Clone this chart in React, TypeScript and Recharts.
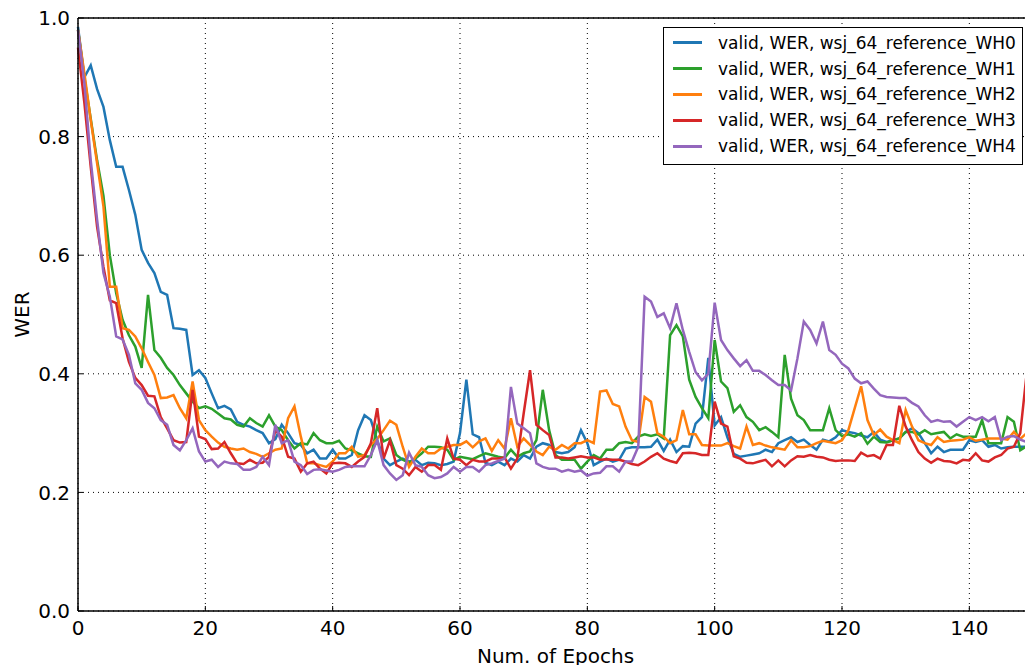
import { LineChart, Line, XAxis, YAxis, CartesianGrid, Legend, ReferenceLine } from "recharts";

// epoch 0..149
const wh0 = [
  0.985, 0.9, 0.92, 0.88, 0.85, 0.794, 0.749, 0.749, 0.71, 0.668,
  0.609, 0.587, 0.57, 0.538, 0.533, 0.477, 0.476, 0.474, 0.398, 0.406,
  0.393, 0.367, 0.342, 0.346, 0.34, 0.319, 0.314, 0.311, 0.305, 0.3,
  0.283, 0.29, 0.314, 0.3, 0.283, 0.28, 0.266, 0.272, 0.257, 0.257,
  0.272, 0.257, 0.257, 0.263, 0.305, 0.33, 0.322, 0.288, 0.257, 0.246,
  0.252, 0.257, 0.252, 0.255, 0.246, 0.25, 0.249, 0.246, 0.248, 0.252,
  0.3, 0.39, 0.298, 0.293, 0.25, 0.246, 0.252, 0.246, 0.257, 0.252,
  0.263, 0.257, 0.277, 0.283, 0.28, 0.268, 0.266, 0.268, 0.276, 0.305,
  0.283, 0.246, 0.252, 0.257, 0.252, 0.255, 0.274, 0.276, 0.276, 0.276,
  0.277, 0.289, 0.27, 0.289, 0.268, 0.278, 0.277, 0.316, 0.327, 0.427,
  0.313, 0.327, 0.293, 0.265, 0.26, 0.262, 0.264, 0.266, 0.272, 0.268,
  0.283, 0.288, 0.293, 0.285, 0.289, 0.28, 0.272, 0.289, 0.286, 0.293,
  0.305, 0.302, 0.3, 0.296, 0.293, 0.302, 0.289, 0.285, 0.288, 0.291,
  0.302, 0.308, 0.3, 0.283, 0.266, 0.277, 0.268, 0.272, 0.272, 0.272,
  0.288, 0.285, 0.288, 0.277, 0.28, 0.274, 0.276, 0.277, 0.277, 0.277,
];

const wh1 = [
  0.98, 0.9, 0.83, 0.76, 0.7, 0.6, 0.536, 0.491, 0.465, 0.446,
  0.41, 0.533, 0.44, 0.427, 0.41, 0.398, 0.381, 0.367, 0.353, 0.342,
  0.345, 0.341, 0.333, 0.325, 0.323, 0.314, 0.311, 0.325, 0.317, 0.311,
  0.33, 0.311, 0.305, 0.288, 0.274, 0.283, 0.281, 0.3, 0.288, 0.283,
  0.283, 0.287, 0.274, 0.271, 0.266, 0.261, 0.26, 0.311, 0.286, 0.291,
  0.263, 0.255, 0.25, 0.257, 0.266, 0.277, 0.277, 0.276, 0.272, 0.255,
  0.26, 0.258, 0.256, 0.261, 0.266, 0.263, 0.26, 0.258, 0.272, 0.26,
  0.266, 0.269, 0.288, 0.373, 0.305, 0.263, 0.255, 0.255, 0.255, 0.24,
  0.252, 0.263, 0.257, 0.272, 0.272, 0.283, 0.285, 0.283, 0.294, 0.298,
  0.295, 0.298, 0.291, 0.465, 0.482, 0.463, 0.39, 0.361, 0.342, 0.325,
  0.457, 0.387, 0.376, 0.336, 0.347, 0.327, 0.319, 0.305, 0.31, 0.302,
  0.293, 0.432, 0.358, 0.33, 0.322, 0.305, 0.305, 0.305, 0.342, 0.305,
  0.295, 0.298, 0.294, 0.3, 0.282, 0.294, 0.285, 0.284, 0.288, 0.291,
  0.302, 0.302, 0.298, 0.305, 0.298, 0.3, 0.302, 0.291, 0.298, 0.294,
  0.294, 0.294, 0.322, 0.283, 0.283, 0.283, 0.327, 0.319, 0.271, 0.278,
];

const wh2 = [
  0.98, 0.907, 0.828, 0.755, 0.682, 0.547, 0.547, 0.477, 0.474, 0.463,
  0.443, 0.42, 0.398, 0.359, 0.36, 0.364, 0.342, 0.325, 0.387, 0.322,
  0.305, 0.294, 0.284, 0.277, 0.274, 0.272, 0.274, 0.268, 0.265, 0.26,
  0.266, 0.272, 0.274, 0.325, 0.345, 0.294, 0.249, 0.249, 0.246, 0.243,
  0.252, 0.266, 0.266, 0.277, 0.26, 0.263, 0.28, 0.29, 0.305, 0.321,
  0.314, 0.277, 0.243, 0.26, 0.274, 0.266, 0.266, 0.274, 0.277, 0.28,
  0.28, 0.286, 0.276, 0.286, 0.291, 0.27, 0.288, 0.274, 0.325, 0.277,
  0.291, 0.28, 0.269, 0.263, 0.277, 0.272, 0.28, 0.274, 0.283, 0.283,
  0.288, 0.283, 0.37, 0.372, 0.349, 0.345, 0.311, 0.288, 0.285, 0.361,
  0.353, 0.3, 0.294, 0.283, 0.288, 0.339, 0.298, 0.298, 0.28, 0.279,
  0.279, 0.279, 0.283, 0.278, 0.274, 0.311, 0.28, 0.283, 0.279, 0.276,
  0.274, 0.272, 0.288, 0.276, 0.276, 0.278, 0.283, 0.287, 0.285, 0.283,
  0.288, 0.305, 0.342, 0.379, 0.322, 0.297, 0.306, 0.294, 0.288, 0.283,
  0.339, 0.311, 0.288, 0.283, 0.28, 0.293, 0.285, 0.287, 0.288, 0.289,
  0.293, 0.287, 0.289, 0.291, 0.291, 0.291, 0.289, 0.302, 0.29, 0.3,
];

const wh3 = [
  0.95, 0.857, 0.749, 0.648, 0.58, 0.524, 0.519, 0.46, 0.42, 0.393,
  0.381, 0.363, 0.362, 0.327, 0.308, 0.288, 0.284, 0.285, 0.373, 0.294,
  0.29, 0.273, 0.274, 0.285, 0.266, 0.249, 0.248, 0.255, 0.249, 0.25,
  0.26, 0.305, 0.294, 0.26, 0.257, 0.235, 0.249, 0.252, 0.24, 0.232,
  0.249, 0.25, 0.249, 0.243, 0.252, 0.26, 0.283, 0.342, 0.257, 0.288,
  0.246, 0.24, 0.229, 0.243, 0.235, 0.246, 0.246, 0.238, 0.291, 0.257,
  0.255, 0.246, 0.255, 0.252, 0.252, 0.257, 0.257, 0.259, 0.24, 0.257,
  0.333, 0.406, 0.314, 0.305, 0.297, 0.259, 0.259, 0.257, 0.259, 0.261,
  0.259, 0.259, 0.255, 0.256, 0.255, 0.255, 0.252, 0.248, 0.246, 0.252,
  0.26, 0.266, 0.257, 0.253, 0.25, 0.266, 0.267, 0.266, 0.263, 0.263,
  0.353, 0.316, 0.311, 0.261, 0.257, 0.25, 0.249, 0.252, 0.255, 0.244,
  0.254, 0.244, 0.254, 0.261, 0.26, 0.263, 0.26, 0.259, 0.255, 0.253,
  0.254, 0.254, 0.253, 0.267, 0.261, 0.263, 0.257, 0.28, 0.28, 0.346,
  0.311, 0.288, 0.268, 0.257, 0.25, 0.257, 0.253, 0.252, 0.249, 0.255,
  0.254, 0.266, 0.254, 0.252, 0.259, 0.263, 0.274, 0.277, 0.3, 0.4,
];

const wh4 = [
  0.98, 0.89, 0.76, 0.66, 0.57, 0.53, 0.463, 0.458, 0.432, 0.384,
  0.373, 0.351, 0.342, 0.322, 0.314, 0.28, 0.271, 0.288, 0.308, 0.269,
  0.252, 0.255, 0.243, 0.252, 0.249, 0.248, 0.238, 0.238, 0.243, 0.26,
  0.246, 0.314, 0.283, 0.288, 0.252, 0.246, 0.231, 0.238, 0.239, 0.237,
  0.235, 0.238, 0.243, 0.244, 0.244, 0.244, 0.263, 0.288, 0.246, 0.232,
  0.221, 0.229, 0.267, 0.246, 0.243, 0.229, 0.224, 0.226, 0.232, 0.243,
  0.235, 0.243, 0.243, 0.235, 0.246, 0.249, 0.253, 0.257, 0.378, 0.316,
  0.308, 0.3, 0.249, 0.243, 0.24, 0.24, 0.235, 0.238, 0.235, 0.237,
  0.228, 0.232, 0.233, 0.244, 0.244, 0.235, 0.252, 0.252, 0.277, 0.53,
  0.522, 0.496, 0.502, 0.477, 0.519, 0.474, 0.437, 0.403, 0.389, 0.4,
  0.52, 0.457, 0.44, 0.426, 0.413, 0.423, 0.405, 0.405, 0.398, 0.389,
  0.381, 0.381, 0.372, 0.426, 0.488, 0.474, 0.451, 0.488, 0.44, 0.432,
  0.417, 0.409, 0.392, 0.384, 0.387, 0.375, 0.364, 0.361, 0.36, 0.359,
  0.359, 0.351, 0.345, 0.33, 0.319, 0.322, 0.319, 0.32, 0.311, 0.319,
  0.327, 0.322, 0.327, 0.32, 0.327, 0.288, 0.294, 0.295, 0.289, 0.285,
];

const seriesKeys = ["wh0", "wh1", "wh2", "wh3", "wh4"];
const seriesNames = [
  "valid, WER, wsj_64_reference_WH0",
  "valid, WER, wsj_64_reference_WH1",
  "valid, WER, wsj_64_reference_WH2",
  "valid, WER, wsj_64_reference_WH3",
  "valid, WER, wsj_64_reference_WH4",
];
const colors = ["#1f77b4", "#2ca02c", "#ff7f0e", "#d62728", "#9467bd"];
const xTicks = [0, 20, 40, 60, 80, 100, 120, 140];
const yTicks = [0, 0.2, 0.4, 0.6, 0.8, 1.0];

const data = wh0.map((v, i) => ({
  epoch: i,
  wh0: v,
  wh1: wh1[i],
  wh2: wh2[i],
  wh3: wh3[i],
  wh4: wh4[i],
}));

const font = "'DejaVu Sans', sans-serif";
const tickStyle = { fontSize: 20, fontFamily: font, fill: "#000" };

function LegendBox({ payload }: any) {
  return (
    <div
      style={{
        border: "1.5px solid #000",
        background: "#fff",
        padding: "2px 0 5px",
        fontFamily: font,
        fontSize: 17,
        color: "#000",
      }}
    >
      {(payload || []).map((p: any) => (
        <div key={p.value} style={{ display: "flex", alignItems: "center", height: 25.8 }}>
          <span
            style={{ display: "inline-block", width: 29, height: 3, background: p.color, marginLeft: 9, marginRight: 16 }}
          />
          <span style={{ whiteSpace: "nowrap" }}>{p.value}</span>
        </div>
      ))}
    </div>
  );
}

export default function App() {
  return (
    <div
      style={{
        position: "fixed",
        left: 0,
        top: 0,
        width: 1025,
        height: 665,
        overflow: "hidden",
        background: "#fff",
      }}
    >
      <LineChart width={1040} height={665} data={data} margin={{ top: 18, right: 7, left: 0, bottom: 0 }}>
        <CartesianGrid stroke="#000" strokeDasharray="1 4" />
        <XAxis
          dataKey="epoch"
          type="number"
          domain={[0, 150]}
          ticks={xTicks}
          height={54}
          tick={tickStyle}
          tickSize={-5}
          tickMargin={14.5}
          axisLine={{ stroke: "#000", strokeWidth: 1.5 }}
          tickLine={{ stroke: "#000" }}
          label={{
            value: "Num. of Epochs",
            position: "insideBottom",
            offset: 2,
            fontSize: 20,
            fontFamily: font,
            fill: "#000",
            style: { fontSize: 20, fontFamily: font, fill: "#000" },
          }}
        />
        <XAxis
          xAxisId="top"
          orientation="top"
          dataKey="epoch"
          type="number"
          domain={[0, 150]}
          ticks={xTicks}
          height={0}
          tick={false}
          tickSize={-5}
          axisLine={{ stroke: "#000", strokeWidth: 1.5 }}
          tickLine={{ stroke: "#000" }}
        />
        <YAxis
          type="number"
          domain={[0, 1]}
          ticks={yTicks}
          width={78}
          tick={tickStyle}
          tickSize={-5}
          tickMargin={13}
          tickFormatter={(v: number) => v.toFixed(1)}
          axisLine={{ stroke: "#000", strokeWidth: 1.5 }}
          tickLine={{ stroke: "#000" }}
          label={{
            value: "WER",
            angle: -90,
            position: "insideLeft",
            offset: 22,
            fontSize: 20,
            fontFamily: font,
            fill: "#000",
            style: { fontSize: 20, fontFamily: font, fill: "#000", textAnchor: "middle" },
          }}
        />
        <ReferenceLine y={1} stroke="#000" strokeWidth={1.5} />
        {seriesKeys.map((k, i) => (
          <Line
            key={k}
            type="linear"
            dataKey={k}
            name={seriesNames[i]}
            stroke={colors[i]}
            strokeWidth={2.5}
            dot={false}
            activeDot={false}
            isAnimationActive={false}
          />
        ))}
        <Legend
          layout="vertical"
          align="center"
          verticalAlign="middle"
          wrapperStyle={{ left: 663, top: 27, width: 360 }}
          content={<LegendBox />}
        />
      </LineChart>
    </div>
  );
}
